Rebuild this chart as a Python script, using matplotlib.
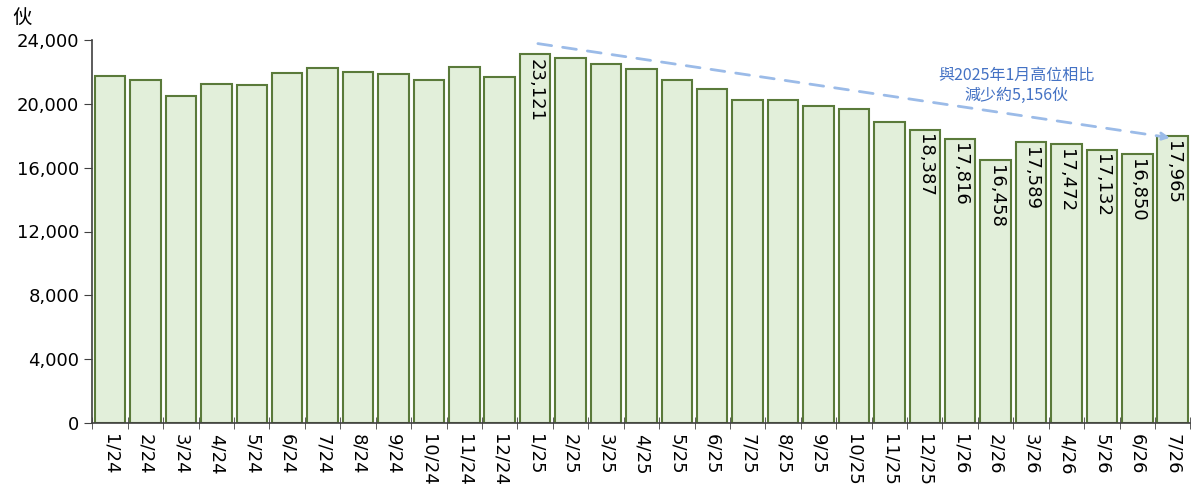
import matplotlib.pyplot as plt
import matplotlib
import numpy as np

matplotlib.rcParams['font.family'] = ['DejaVu Sans', 'Noto Sans CJK TC']
matplotlib.rcParams['font.size'] = 13

# 月份 (m/yy)
months = ['1/24', '2/24', '3/24', '4/24', '5/24', '6/24', '7/24', '8/24', '9/24',
          '10/24', '11/24', '12/24', '1/25', '2/25', '3/25', '4/25', '5/25', '6/25',
          '7/25', '8/25', '9/25', '10/25', '11/25', '12/25', '1/26', '2/26', '3/26',
          '4/26', '5/26', '6/26', '7/26']
# 伙數 (未標示者為目測估計)
units = [21770, 21520, 20480, 21270, 21150, 21940, 22270, 22020, 21860,
         21520, 22320, 21710, 23121, 22890, 22500, 22200, 21490, 20940,
         20270, 20230, 19880, 19650, 18870, 18387, 17816, 16458, 17589,
         17472, 17132, 16850, 17965]
# 有數字標示的月份
labelled = ['1/25', '12/25', '1/26', '2/26', '3/26', '4/26', '5/26', '6/26', '7/26']

trend_start = ('1/25', 23800)
trend_end = ('7/26', 17850)
note = '與2025年1月高位相比\n減少約5,156伙'

fig = plt.figure(figsize=(12, 5), dpi=100)
ax = fig.add_axes([0.077, 0.154, 0.915, 0.766])

x = np.arange(len(months))
ax.bar(x, units, width=0.86, color='#E2EFDA', edgecolor='#5A7A3A', linewidth=1.5, zorder=2)

for i, (m, v) in enumerate(zip(months, units)):
    if m in labelled:
        ax.text(i, v - 300, f'{v:,}', rotation=270, ha='center', va='top',
                fontsize=13, color='black', zorder=3)

# 下降趨勢虛線
xs = months.index(trend_start[0])
xe = months.index(trend_end[0])
ax.annotate('', xy=(xe, trend_end[1]), xytext=(xs, trend_start[1]),
            arrowprops=dict(arrowstyle='-|>', color='#9BBBE8', lw=2,
                            linestyle=(0, (5, 4)), mutation_scale=12), zorder=4)
ax.text(25.6, 21150, note, ha='center', va='center', color='#4472C4',
        fontsize=11.5, family=['Noto Sans CJK TC', 'DejaVu Sans'], linespacing=1.25)

ax.set_xlim(-0.5, len(months) - 0.5)
ax.set_ylim(0, 24000)
ax.set_yticks(np.arange(0, 24001, 4000))
ax.set_yticklabels([f'{t:,}' for t in range(0, 24001, 4000)])
ax.set_xticks(x)
ax.set_xticklabels(months, rotation=270, va='top', ha='center')
ax.tick_params(axis='x', which='major', length=0, pad=8)
ax.set_xticks(np.arange(-0.5, len(months), 1), minor=True)
ax.tick_params(axis='x', which='minor', length=8, direction='inout', color='#404040')
ax.tick_params(axis='y', length=6, color='#404040')

for s in ['top', 'right']:
    ax.spines[s].set_visible(False)
for s in ['left', 'bottom']:
    ax.spines[s].set_color('#404040')
    ax.spines[s].set_linewidth(1.2)

fig.text(0.018, 0.965, '伙', fontsize=14, family=['Noto Sans CJK TC', 'DejaVu Sans'],
         ha='center', va='center')

plt.savefig('out.png')
